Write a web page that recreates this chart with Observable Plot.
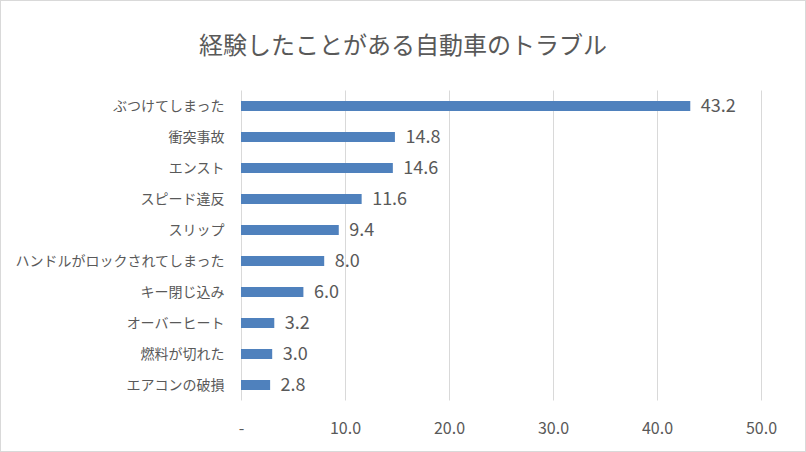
<!DOCTYPE html>
<html><head><meta charset="utf-8">
<script src="https://cdn.jsdelivr.net/npm/d3@7"></script>
<script src="https://cdn.jsdelivr.net/npm/@observablehq/plot@0.6"></script>
<style>
body{margin:0;background:#fff;}
#page{position:relative;width:806px;height:452px;overflow:hidden;font-family:"Noto Sans CJK JP",sans-serif;}
#frame{position:absolute;left:0;top:0;width:806px;height:452px;box-sizing:border-box;border:1px solid #d9d9d9;pointer-events:none;}
#title{position:absolute;left:0;top:26px;width:806px;text-align:center;font-size:24px;color:#595959;line-height:36px;}
#chart{position:absolute;left:0;top:80px;}
</style></head>
<body><div id="page"><div id="title">経験したことがある自動車のトラブル</div><div id="chart"></div><div id="frame"></div></div>
<script>
const categories = ["ぶつけてしまった","衝突事故","エンスト","スピード違反","スリップ","ハンドルがロックされてしまった","キー閉じ込み","オーバーヒート","燃料が切れた","エアコンの破損"];
const values = [43.2,14.8,14.6,11.6,9.4,8.0,6.0,3.2,3.0,2.8];
const xTicks = [0,10,20,30,40,50];
const xTickLabels = ["-","10.0","20.0","30.0","40.0","50.0"];
const data = categories.map((c,i)=>({cat:c,val:values[i]}));
const chart = Plot.plot({
  width:806, height:372,
  marginLeft:241, marginRight:45, marginTop:10.5, marginBottom:51.5,
  style:{fontFamily:'"Noto Sans CJK JP",sans-serif',color:"#595959",background:"transparent"},
  x:{domain:[0,50]},
  y:{domain:categories, paddingInner:0.68, paddingOuter:0.34, align:0.5},
  marks:[
    Plot.ruleX(xTicks,{stroke:"#d9d9d9",strokeWidth:1}),
    Plot.barX(data,{x:"val",y:"cat",fill:"#4F81BD"}),
    Plot.text(data,{x:"val",y:"cat",text:d=>d.val.toFixed(1),textAnchor:"start",dx:10,fontSize:18,fill:"#595959"}),
    Plot.axisY({tickSize:0,tickPadding:17,fontSize:14,label:null,color:"#595959"}),
    Plot.axisX({ticks:xTicks,tickFormat:(d)=>xTickLabels[xTicks.indexOf(d)],tickSize:0,tickPadding:22,fontSize:16,label:null,color:"#595959"})
  ]
});
document.getElementById("chart").appendChild(chart);
</script></body></html>
